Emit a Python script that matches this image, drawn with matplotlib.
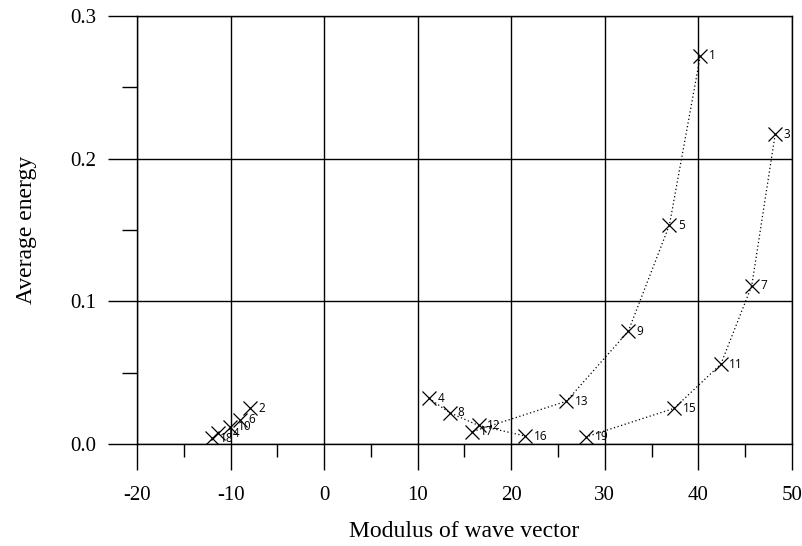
import matplotlib
matplotlib.use("Agg")
import matplotlib.pyplot as plt
from matplotlib.ticker import MultipleLocator, FormatStrFormatter

plt.rcParams['axes.unicode_minus'] = False

# point labels 1..19
labels = [str(i) for i in range(1, 20)]
modulus = [40.2, -7.9, 48.2, 11.2, 36.9, -9.0, 45.7, 13.4, 32.5, -10.1,
           42.4, 16.5, 25.9, -11.3, 37.4, 21.5, 15.8, -12.0, 28.0]
energy = [0.272, 0.025, 0.217, 0.032, 0.1535, 0.017, 0.111, 0.022, 0.079, 0.012,
          0.056, 0.013, 0.030, 0.0075, 0.025, 0.0056, 0.0086, 0.004, 0.005]

# dotted branches (1-based point indices)
branch_a = [1, 5, 9, 13, 17]
branch_c = [3, 7, 11, 15, 19]
branch_d = [4, 8, 12, 16]

fig = plt.figure(figsize=(8.03, 5.46), dpi=100)
ax = fig.add_axes([137/803, 1 - 444/546, (792-137)/803, (444-16)/546])

for br in (branch_a, branch_c, branch_d):
    ax.plot([modulus[i-1] for i in br], [energy[i-1] for i in br],
            linestyle=(0, (1, 2)), color='black', linewidth=0.9, zorder=2)

ax.plot(modulus, energy, linestyle='none', marker='x', markersize=10,
        markeredgewidth=0.9, color='black', zorder=3)

for lab, x, y in zip(labels, modulus, energy):
    ax.annotate(lab, (x, y), xytext=(6, 0), textcoords='offset points',
                ha='left', va='center', fontsize=8.5, family='Open Sans',
                zorder=4)

ax.set_xlim(-20, 50)
ax.set_ylim(0, 0.3)
ax.xaxis.set_major_locator(MultipleLocator(10))
ax.xaxis.set_minor_locator(MultipleLocator(5))
ax.yaxis.set_major_locator(MultipleLocator(0.1))
ax.yaxis.set_minor_locator(MultipleLocator(0.05))
ax.yaxis.set_major_formatter(FormatStrFormatter('%.1f'))

ax.grid(True, which='major', color='black', linewidth=1.0)
ax.set_axisbelow(True)
for s in ax.spines.values():
    s.set_linewidth(1.0)

ax.tick_params(axis='x', which='major', direction='out', length=19, width=1.0,
               pad=11, labelsize=15)
ax.tick_params(axis='x', which='minor', direction='out', length=9.5, width=1.0)
ax.tick_params(axis='y', which='major', direction='out', length=21, width=1.0,
               pad=8, labelsize=15)
ax.tick_params(axis='y', which='minor', direction='out', length=10.5, width=1.0)
for t in ax.get_xticklabels() + ax.get_yticklabels():
    t.set_family('Liberation Serif')

ax.set_xlabel('Modulus of wave vector', family='Liberation Serif', fontsize=17,
              labelpad=12)
ax.set_ylabel('Average energy', family='Liberation Serif', fontsize=17,
              labelpad=24)

fig.savefig('out.png', dpi=100)
